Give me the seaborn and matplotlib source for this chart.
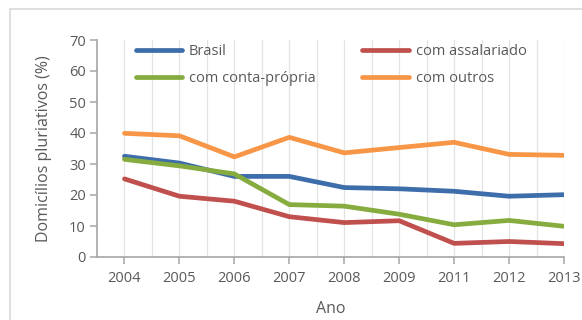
import matplotlib
matplotlib.use("Agg")
import matplotlib.pyplot as plt
from matplotlib.patches import Rectangle
from matplotlib.ticker import MultipleLocator
import pandas as pd
import seaborn as sns

anos = ["2004", "2005", "2006", "2007", "2008", "2009", "2011", "2012", "2013"]
brasil = [32.5, 30.3, 26.0, 26.0, 22.4, 22.0, 21.2, 19.6, 20.1]
conta_propria = [31.5, 29.4, 26.8, 16.9, 16.4, 13.8, 10.4, 11.8, 9.9]
assalariado = [25.2, 19.6, 18.0, 13.0, 11.1, 11.7, 4.4, 5.0, 4.3]
outros = [39.9, 39.1, 32.3, 38.6, 33.6, 35.3, 37.0, 33.1, 32.8]

series = {
    "Brasil": brasil,
    "com conta-própria": conta_propria,
    "com assalariado": assalariado,
    "com outros": outros,
}
cores = {
    "Brasil": "#3d6dab",
    "com conta-própria": "#86ab3f",
    "com assalariado": "#c0504d",
    "com outros": "#f79646",
}

df = pd.concat(
    [pd.DataFrame({"Ano": anos, "valor": v, "grupo": k}) for k, v in series.items()],
    ignore_index=True,
)

sns.set_theme(style="white")
plt.rcParams["font.family"] = ["Open Sans", "DejaVu Sans"]
texto = "#595959"

fig = plt.figure(figsize=(5.82, 3.20), dpi=100)
fig.patch.set_facecolor("white")
# chart-area border
fig.add_artist(Rectangle((10 / 582, -0.1), 1.2, (320 - 9) / 320 + 0.1,
                         transform=fig.transFigure, fill=False,
                         edgecolor="#d9d9d9", linewidth=1.2))

ax = fig.add_axes([97 / 582, 63 / 320, 467 / 582, 217 / 320])
sns.lineplot(data=df, x="Ano", y="valor", hue="grupo", palette=cores,
             linewidth=3.4, ax=ax, sort=False, legend=False)
for ln in ax.lines:
    ln.set_solid_capstyle("round")
    ln.set_solid_joinstyle("round")

ax.set_xlim(-0.5, 8)
ax.set_ylim(0, 70)
ax.yaxis.set_major_locator(MultipleLocator(10))
ax.set_xticks(range(len(anos)))
ax.set_xticklabels(anos)
ax.grid(False)
for xv in [i * 0.5 - 0.5 for i in range(1, 18)]:
    ax.axvline(xv, color="#e3e3e3", linewidth=0.9, zorder=0)

for s in ["top", "right"]:
    ax.spines[s].set_visible(False)
for s in ["left", "bottom"]:
    ax.spines[s].set_color("#a6a6a6")
    ax.spines[s].set_linewidth(1.2)

ax.tick_params(axis="both", which="major", colors="#a6a6a6", labelcolor=texto,
               labelsize=10.5, length=5, width=1.1, direction="out",
               bottom=True, left=True)
ax.tick_params(axis="x", pad=5)
ax.tick_params(axis="y", pad=3)

ax.set_ylabel("Domicílios pluriativos (%)", fontsize=11.5, color=texto, labelpad=12)
ax.set_xlabel("Ano", fontsize=11.5, color=texto, labelpad=11)

handles = [plt.Line2D([], [], color=cores[k], linewidth=3.4, solid_capstyle="round")
           for k in series]
ax.legend(handles, list(series.keys()), ncol=2, frameon=False, fontsize=10.5,
          labelcolor=texto, loc="upper left", bbox_to_anchor=(0.055, 1.04),
          handlelength=3.2, columnspacing=3.2, handletextpad=0.45,
          labelspacing=0.78)

fig.savefig("out.png", dpi=100)
